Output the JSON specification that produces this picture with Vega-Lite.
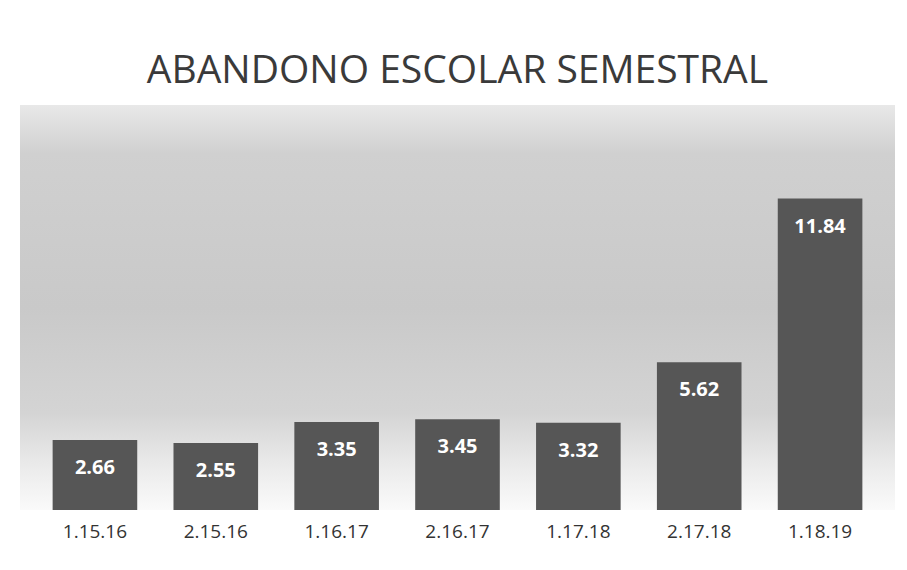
{
  "$schema": "https://vega.github.io/schema/vega-lite/v6.json",
  "width": 875,
  "height": 405,
  "autosize": {"type": "none"},
  "padding": {"left": 20, "top": 105, "right": 12, "bottom": 60},
  "background": "#ffffff",
  "title": {
    "text": "ABANDONO ESCOLAR SEMESTRAL",
    "font": "Open Sans",
    "fontSize": 39,
    "fontWeight": "normal",
    "color": "#3a3a3a",
    "anchor": "middle",
    "offset": 14
  },
  "config": {
    "view": {
      "stroke": null,
      "fill": {
        "gradient": "linear",
        "x1": 0, "y1": 0, "x2": 0, "y2": 1,
        "stops": [
          {"offset": 0, "color": "#e8e8e8"},
          {"offset": 0.12, "color": "#d0d0d0"},
          {"offset": 0.5, "color": "#c9c9c9"},
          {"offset": 0.76, "color": "#d4d4d4"},
          {"offset": 0.9, "color": "#ececec"},
          {"offset": 1, "color": "#fafafa"}
        ]
      }
    }
  },
  "data": {
    "values": [
      {"periodo": "1.15.16", "valor": 2.66},
      {"periodo": "2.15.16", "valor": 2.55},
      {"periodo": "1.16.17", "valor": 3.35},
      {"periodo": "2.16.17", "valor": 3.45},
      {"periodo": "1.17.18", "valor": 3.32},
      {"periodo": "2.17.18", "valor": 5.62},
      {"periodo": "1.18.19", "valor": 11.84}
    ]
  },
  "encoding": {
    "x": {
      "field": "periodo",
      "type": "nominal",
      "sort": null,
      "scale": {"paddingInner": 0.3, "paddingOuter": 0.27},
      "axis": {
        "title": null,
        "domain": false,
        "ticks": false,
        "labelAngle": 0,
        "labelFont": "Open Sans",
        "labelFontSize": 19,
        "labelColor": "#333333",
        "labelPadding": 12
      }
    },
    "y": {
      "field": "valor",
      "type": "quantitative",
      "scale": {"domain": [0, 15.4]},
      "axis": null
    }
  },
  "layer": [
    {
      "mark": {"type": "bar", "color": "#565656"}
    },
    {
      "mark": {
        "type": "text",
        "baseline": "middle",
        "dy": 28,
        "color": "#ffffff",
        "font": "Open Sans",
        "fontSize": 20,
        "fontWeight": "bold"
      },
      "encoding": {
        "text": {"field": "valor", "type": "quantitative", "format": ".2f"}
      }
    }
  ]
}
